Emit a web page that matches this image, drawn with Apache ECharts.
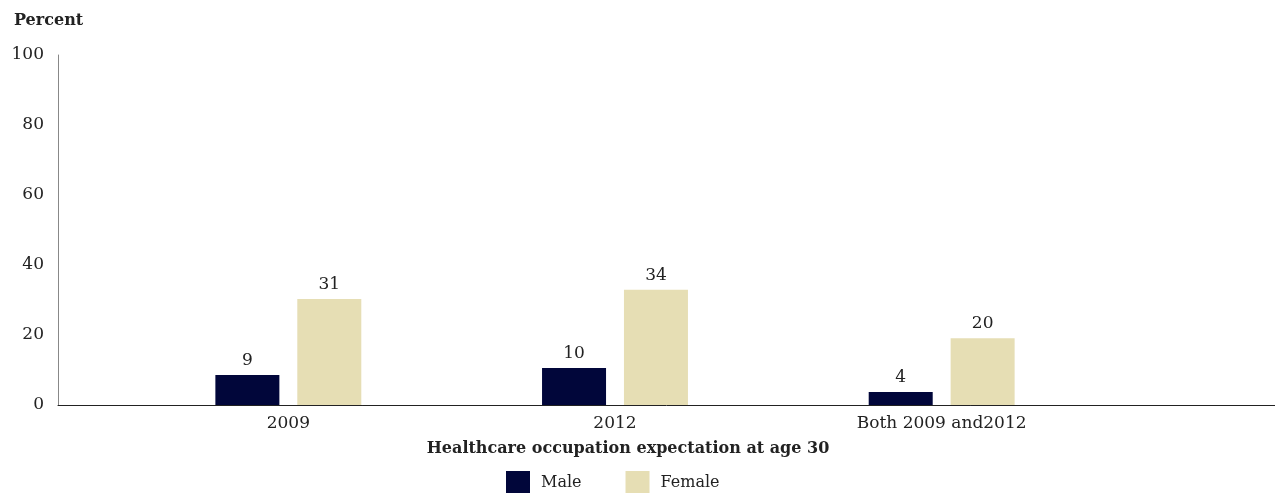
<!DOCTYPE html>
<html>
<head>
<meta charset="utf-8">
<script src="https://cdn.jsdelivr.net/npm/echarts@6/dist/echarts.min.js"></script>
<style>
  html, body { margin: 0; padding: 0; background: #fff; }
  #main { width: 1275px; height: 493px; }
</style>
</head>
<body>
<div id="main"></div>
<script>
// data
var categories = ['2009', '2012', 'Both 2009 and2012'];
var maleValues = [8.6, 10.6, 3.7];
var femaleValues = [30.3, 32.9, 19.1];
// printed labels above the bars
var maleLabels = ['9', '10', '4'];
var femaleLabels = ['31', '34', '20'];
var yTicks = [0, 20, 40, 60, 80, 100];

var font = 'DejaVu Serif';
var myChart = echarts.init(document.getElementById('main'));

function labelFrom(arr) {
    return function (p) { return arr[p.dataIndex]; };
}

var option = {
    animation: false,
    textStyle: { fontFamily: font },
    title: {
        text: 'Percent',
        left: 9,
        top: 8,
        textStyle: { fontFamily: font, fontSize: 16, fontWeight: 'bold', color: '#222' }
    },
    legend: {
        data: ['Male', 'Female'],
        left: 506,
        top: 471,
        padding: 0,
        itemWidth: 24,
        itemHeight: 24,
        itemGap: 44,
        icon: 'rect',
        textStyle: { fontFamily: font, fontSize: 16, color: '#222', padding: [0, 0, 0, 6] }
    },
    grid: [
        // bars
        { left: 125, right: 170, top: 55, bottom: 88 },
        // frame lines + y labels
        { left: 58, right: 0, top: 55, bottom: 88 }
    ],
    xAxis: [
        {
            type: 'category',
            gridIndex: 0,
            data: categories,
            axisLine: { show: false },
            axisTick: { show: false },
            axisLabel: { fontFamily: font, fontSize: 17, color: '#222', margin: 10 },
            name: 'Healthcare occupation expectation at age 30',
            nameLocation: 'middle',
            nameGap: 36,
            nameTextStyle: {
                fontFamily: font, fontSize: 16, fontWeight: 'bold', color: '#222',
                padding: [0, 0, 0, 26]
            }
        },
        {
            type: 'value',
            gridIndex: 1,
            min: 0,
            max: 1,
            axisLine: { show: true, lineStyle: { color: '#222', width: 1 } },
            axisTick: { show: false },
            axisLabel: { show: false },
            splitLine: { show: false }
        }
    ],
    yAxis: [
        {
            type: 'value',
            gridIndex: 0,
            min: 0,
            max: 100,
            interval: 20,
            show: false
        },
        {
            type: 'value',
            gridIndex: 1,
            min: yTicks[0],
            max: yTicks[yTicks.length - 1],
            interval: 20,
            axisLine: { show: true, lineStyle: { color: '#888', width: 1 } },
            axisTick: { show: false },
            splitLine: { show: false },
            axisLabel: { fontFamily: font, fontSize: 17, color: '#222', margin: 14 }
        }
    ],
    series: [
        {
            name: 'Male',
            type: 'bar',
            xAxisIndex: 0,
            yAxisIndex: 0,
            data: maleValues,
            barWidth: 64,
            barGap: '28%',
            itemStyle: { color: '#01063a' },
            label: {
                show: true,
                position: 'top',
                distance: 6,
                formatter: labelFrom(maleLabels),
                fontFamily: font,
                fontSize: 17,
                color: '#222'
            }
        },
        {
            name: 'Female',
            type: 'bar',
            xAxisIndex: 0,
            yAxisIndex: 0,
            data: femaleValues,
            barWidth: 64,
            itemStyle: { color: '#e6deb4' },
            label: {
                show: true,
                position: 'top',
                distance: 6,
                formatter: labelFrom(femaleLabels),
                fontFamily: font,
                fontSize: 17,
                color: '#222'
            }
        }
    ]
};

myChart.setOption(option);
window.addEventListener('resize', function () {
    myChart.resize();
});
</script>
</body>
</html>
